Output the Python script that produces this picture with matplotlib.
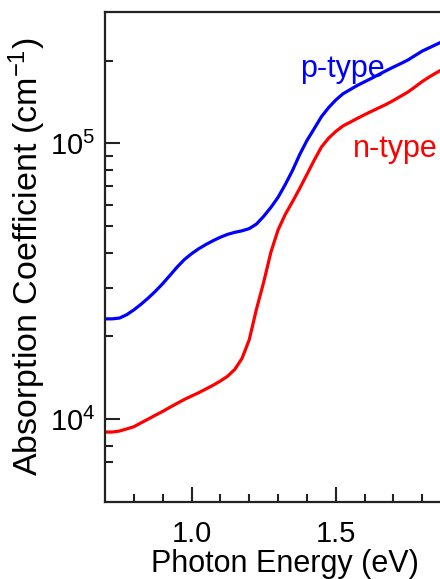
import numpy as np
import matplotlib
matplotlib.use("Agg")
import matplotlib.pyplot as plt
from matplotlib.ticker import FixedLocator, NullFormatter, LogFormatterSciNotation

plt.rcParams['font.family'] = ['Liberation Sans', 'DejaVu Sans']
plt.rcParams['mathtext.fontset'] = 'custom'
plt.rcParams['mathtext.rm'] = 'Liberation Sans'
plt.rcParams['mathtext.it'] = 'Liberation Sans:italic'
plt.rcParams['mathtext.bf'] = 'Liberation Sans:bold'

# Photon energy (eV)
energy = [0.700, 0.725, 0.750, 0.775, 0.800, 0.825, 0.850, 0.875, 0.900, 0.925,
          0.950, 0.975, 1.000, 1.025, 1.050, 1.075, 1.100, 1.125, 1.150, 1.175,
          1.200, 1.225, 1.250, 1.275, 1.300, 1.325, 1.350, 1.375, 1.400, 1.425,
          1.450, 1.475, 1.500, 1.525, 1.550, 1.575, 1.600, 1.625, 1.650, 1.675,
          1.700, 1.725, 1.750, 1.775, 1.800, 1.825, 1.850, 1.862]

# Absorption coefficient (cm^-1)
p_type = [23100, 23100, 23250, 23900, 24900, 26100, 27500, 29100, 31000, 33200,
          35600, 37900, 39800, 41500, 43000, 44400, 45700, 46800, 47600, 48200,
          49100, 51000, 54400, 58600, 63800, 71000, 79800, 91200, 102500, 113100,
          125000, 134900, 143800, 151500, 156900, 162500, 167500, 172600, 178100, 183800,
          189400, 194900, 200900, 208600, 216500, 222700, 229200, 232300]
n_type = [8970, 8970, 9046, 9206, 9378, 9688, 10000, 10330, 10660, 11030,
          11400, 11780, 12120, 12460, 12860, 13270, 13740, 14300, 15150, 16600,
          19400, 25040, 31360, 40290, 48600, 55320, 61500, 68710, 77230, 86860,
          97000, 104500, 110600, 115800, 119500, 123400, 127200, 131000, 134800, 138700,
          143300, 148400, 153700, 160500, 167900, 174600, 180900, 183800]

fig = plt.figure(figsize=(4.40, 5.79), dpi=100)
ax = fig.add_axes([105/440, 1 - 502/579, 360.6/440, 490/579])

ax.plot(energy, p_type, color='#0000ff', lw=2.3, solid_joinstyle='round')
ax.plot(energy, n_type, color='#ff0000', lw=2.3, solid_joinstyle='round')

ax.set_yscale('log')
ax.set_xlim(0.7, 1.95)
ax.set_ylim(5000, 3.0e5)

ax.xaxis.set_major_locator(FixedLocator([1.0, 1.5]))
ax.xaxis.set_minor_locator(FixedLocator([0.8, 0.9, 1.1, 1.2, 1.3, 1.4, 1.6, 1.7, 1.8, 1.9]))
ax.set_xticklabels(['1.0', '1.5'])

ax.yaxis.set_major_locator(FixedLocator([1e4, 1e5]))
ax.yaxis.set_major_formatter(LogFormatterSciNotation())
ax.yaxis.set_minor_locator(FixedLocator([7e3, 8e3, 9e3, 2e4, 3e4, 4e4, 5e4, 6e4, 7e4, 8e4, 9e4, 2e5]))
ax.yaxis.set_minor_formatter(NullFormatter())

for s in ax.spines.values():
    s.set_linewidth(1.6)
    s.set_color('#222222')
ax.spines['right'].set_visible(False)

ax.tick_params(which='major', direction='in', length=11, width=1.5, color='#222222',
               labelsize=21)
ax.tick_params(which='minor', direction='in', length=6, width=1.5, color='#222222')
ax.tick_params(axis='x', which='major', pad=13)
ax.tick_params(axis='y', which='major', pad=7)

ax.set_xlabel('Photon Energy (eV)', fontsize=22, labelpad=1)
ax.set_ylabel('Absorption Coefficient (cm$^{-1}$)', fontsize=24.5, labelpad=1.5)

ax.text(1.376, 174900, 'p-type', color='#0000ff', fontsize=22, ha='left', va='baseline')
ax.text(1.56, 88960, 'n-type', color='#ff0000', fontsize=22, ha='left', va='baseline')

fig.savefig('out.png', dpi=100)
